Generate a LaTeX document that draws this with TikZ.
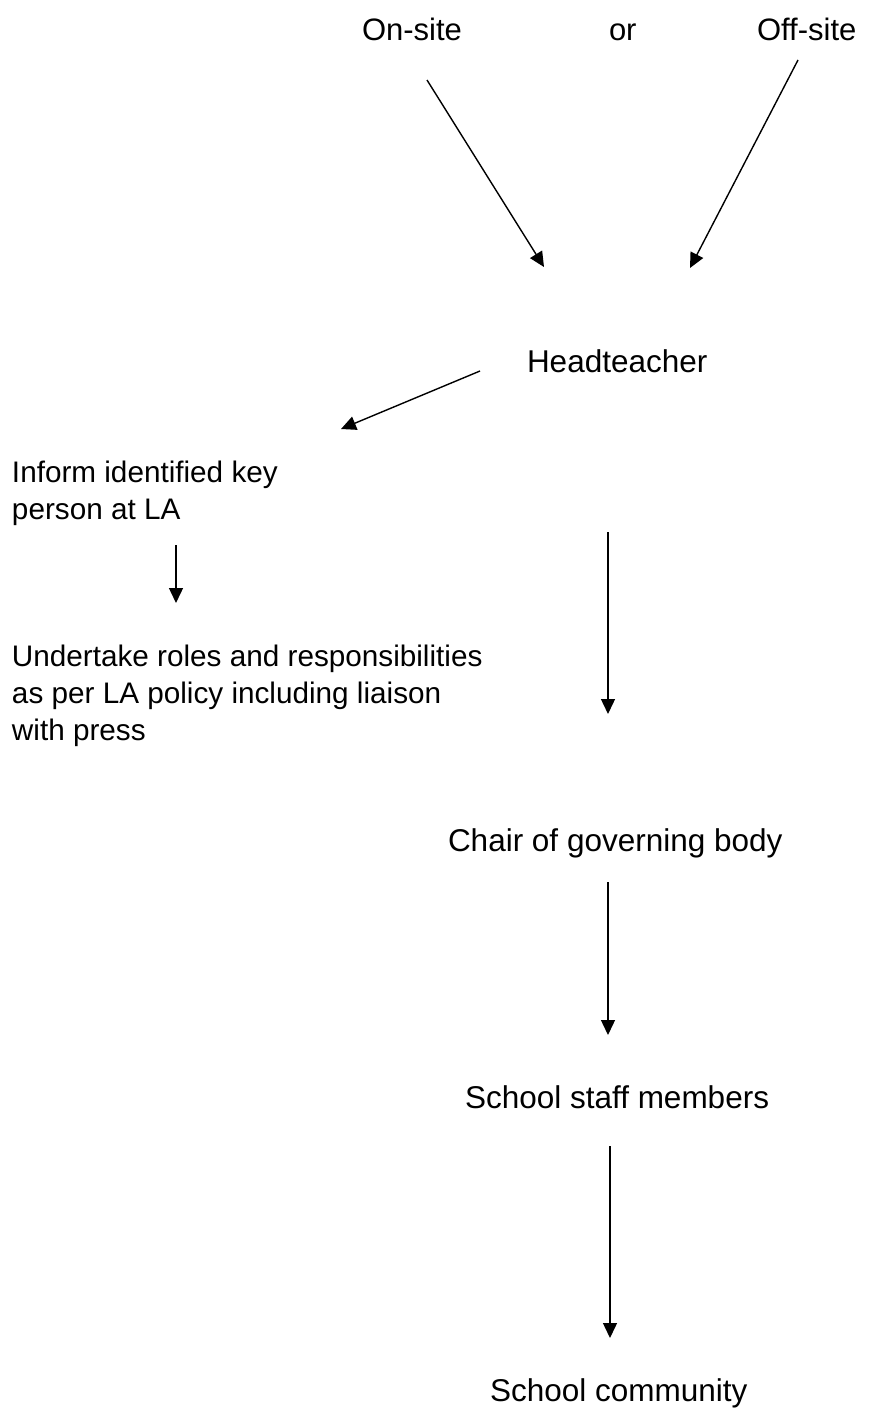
\documentclass[tikz,border=0pt]{standalone}
\usepackage{fontspec}
\setmainfont{Liberation Sans}
\usetikzlibrary{arrows.meta}
\begin{document}
\begin{tikzpicture}[x=1pt,y=-1pt,
  lbl/.style={inner sep=0pt,outer sep=0pt,anchor=base west,align=left},
  lft/.style={lbl,font=\fontsize{29.7}{37}\selectfont},
  rgt/.style={lbl,font=\fontsize{31.5}{38}\selectfont},
  conn/.style={line width=1.4pt,-{Triangle[length=15pt,width=14pt]}}]
\useasboundingbox (0,0) rectangle (876,1408);
\node[lbl,font=\fontsize{31}{38}\selectfont] (onsite) at (362,40) {On-site};
\node[lbl,font=\fontsize{31}{38}\selectfont] (or) at (609,40) {or};
\node[lbl,font=\fontsize{31}{38}\selectfont] (offsite) at (757,40) {Off-site};
\node[rgt] (head) at (527,372) {Headteacher};
\node[lft] (inform) at (12,519) {Inform identified key\\person at LA};
\node[lft] (undertake) at (12,740) {Undertake roles and responsibilities\\as per LA policy including liaison\\with press};
\node[rgt] (chair) at (448,851) {Chair of governing body};
\node[rgt] (staff) at (465,1108) {School staff members};
\node[rgt] (community) at (490,1401) {School community};
% connector ends
\coordinate (a1s) at (427,80);   \coordinate (a1e) at (544,267);
\coordinate (a2s) at (798,60);   \coordinate (a2e) at (690,268);
\coordinate (a3s) at (480,371);  \coordinate (a3e) at (341,429);
\coordinate (a4s) at (176,545);  \coordinate (a4e) at (176,603);
\coordinate (a5s) at (608,532);  \coordinate (a5e) at (608,714);
\coordinate (a6s) at (608,882);  \coordinate (a6e) at (608,1035);
\coordinate (a7s) at (610,1146); \coordinate (a7e) at (610,1338);
\draw[conn] (a1s) -- (a1e);
\draw[conn] (a2s) -- (a2e);
\draw[conn] (a3s) -- (a3e);
\draw[conn] (a4s) -- (a4e);
\draw[conn] (a5s) -- (a5e);
\draw[conn] (a6s) -- (a6e);
\draw[conn] (a7s) -- (a7e);
\end{tikzpicture}
\end{document}
